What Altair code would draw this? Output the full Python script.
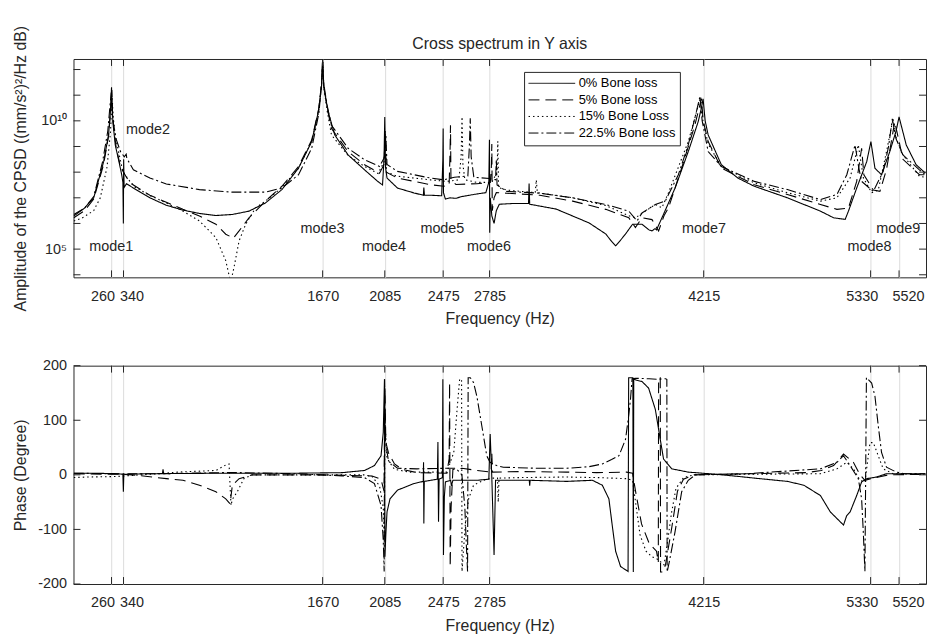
import altair as alt
import pandas as pd

FONT = "Liberation Sans"
TXT = "#262626"
FRAME = "#262626"
W, H = 859, 220
TICK = 7

series_names = ["0% Bone loss", "5% Bone loss", "15% Bone Loss", "22.5% Bone loss"]
series_dash = [[1, 0], [11, 6], [1.5, 3], [10, 3, 2, 3]]

mode_freqs = [260, 340, 1670, 2085, 2475, 2785, 4215, 5330, 5520]
mode_labels = ["mode1", "mode2", "mode3", "mode4", "mode5", "mode6", "mode7", "mode8", "mode9"]
mode_label_hz = [112, 357, 1522, 1933, 2323, 2634, 4071, 5176, 5368]
mode_label_exp = [5.09, 9.65, 5.78, 5.09, 5.78, 5.09, 5.78, 5.09, 5.78]

amp_decades = [4, 5, 6, 7, 8, 9, 10, 11, 12]
phase_ticks = [-200, -100, 0, 100, 200]

# ---- amplitude: (frequency Hz, log10 of CPSD amplitude) ----
amp_0 = [(8, 6.29), (80, 6.6), (141, 7.0), (207, 8.4), (240, 9.45), (252, 10.3), (258, 11.0), (260, 11.31),
         (263, 10.6), (270, 9.9), (285, 9.06), (310, 8.4), (328, 7.9), (336, 7.6), (339, 6.0), (341, 8.5),
         (344, 7.4), (360, 7.55), (406, 7.38), (516, 7.0), (626, 6.71), (737, 6.52), (847, 6.39), (957, 6.31),
         (1067, 6.35), (1178, 6.48), (1288, 6.8), (1398, 7.32), (1509, 8.16), (1597, 9.19), (1641, 10.35),
         (1662, 11.3), (1670, 12.4), (1678, 11.3), (1707, 10.35), (1751, 9.45), (1840, 8.67), (1950, 8.09),
         (2038, 7.64), (2070, 7.5), (2080, 8.5), (2085, 10.15), (2090, 8.2), (2100, 7.77), (2170, 7.38),
         (2280, 7.19), (2343, 7.1), (2346, 7.4), (2350, 7.1), (2390, 7.1), (2465, 7.08), (2473, 8.5),
         (2475, 9.7), (2477, 7.2), (2490, 6.95), (2520, 7.0), (2560, 6.98), (2600, 7.05), (2650, 7.1),
         (2700, 7.15), (2760, 7.2), (2780, 7.6), (2784, 9.26), (2786, 5.64), (2790, 7.0), (2800, 6.3),
         (2815, 6.0), (2830, 6.5), (2850, 6.75), (2950, 6.78), (3045, 6.78), (3049, 7.56), (3053, 6.75),
         (3230, 6.56), (3450, 6.02), (3561, 5.59), (3600, 5.3), (3627, 5.13), (3660, 5.35), (3693, 5.59),
         (3740, 5.97), (3803, 5.97), (3850, 5.75), (3870, 5.71), (3890, 5.8), (3900, 5.75), (3947, 6.36),
         (4024, 7.38), (4112, 8.8), (4178, 9.96), (4200, 10.5), (4211, 10.86), (4225, 10.0), (4245, 9.45),
         (4333, 8.29), (4443, 7.77), (4553, 7.45), (4774, 7.0), (4995, 6.48), (5083, 6.22), (5160, 6.16),
         (5182, 6.48), (5237, 7.38), (5304, 8.41), (5332, 9.19), (5359, 8.15), (5403, 7.9), (5458, 8.8),
         (5500, 9.6), (5520, 10.15), (5568, 9.06), (5634, 8.29), (5696, 7.96)]

amp_5 = [(8, 6.22), (80, 6.5), (141, 6.95), (207, 8.3), (240, 9.4), (255, 10.5), (262, 11.2), (266, 10.4),
         (275, 9.7), (290, 9.0), (320, 8.2), (350, 7.9), (362, 7.77), (406, 7.5), (516, 7.1), (626, 6.83),
         (737, 6.55), (847, 6.29), (957, 5.97), (1023, 5.58), (1074, 5.43), (1112, 5.71), (1178, 6.22),
         (1288, 6.87), (1398, 7.45), (1509, 8.22), (1597, 9.25), (1645, 10.5), (1663, 11.5), (1670, 12.3),
         (1677, 11.4), (1700, 10.5), (1729, 9.7), (1840, 8.8), (1950, 8.29), (2050, 7.96), (2080, 8.3),
         (2088, 9.6), (2095, 8.0), (2170, 7.77), (2390, 7.51), (2480, 7.45), (2515, 7.5), (2521, 8.8),
         (2524, 9.83), (2527, 7.7), (2560, 7.52), (2700, 7.55), (2790, 7.6), (2797, 8.2), (2800, 9.1),
         (2803, 6.5), (2815, 7.0), (2830, 7.2), (2899, 7.18), (3120, 7.1), (3340, 6.87), (3561, 6.55),
         (3715, 6.22), (3759, 5.84), (3803, 6.22), (3870, 6.15), (3914, 5.71), (3950, 6.3), (3980, 6.61),
         (4068, 8.16), (4156, 9.83), (4200, 10.86), (4212, 10.0), (4245, 9.19), (4333, 8.16), (4553, 7.51),
         (4774, 7.13), (4995, 6.74), (5105, 6.55), (5182, 6.6), (5237, 7.64), (5270, 8.93), (5285, 7.9),
         (5348, 7.3), (5392, 7.25), (5436, 8.1), (5491, 9.96), (5520, 9.2), (5546, 8.5), (5656, 7.9),
         (5696, 7.9)]

amp_15 = [(8, 6.1), (60, 6.2), (141, 6.5), (185, 7.0), (230, 8.2), (252, 9.5), (265, 10.9), (270, 10.2),
          (285, 9.4), (335, 8.03), (406, 7.45), (516, 7.09), (626, 6.8), (737, 6.48), (847, 6.1), (957, 5.45),
          (1023, 4.55), (1056, 3.7), (1078, 4.29), (1112, 5.32), (1156, 5.97), (1222, 6.61), (1288, 6.87),
          (1398, 7.4), (1509, 8.15), (1597, 9.2), (1645, 10.4), (1664, 11.5), (1671, 12.3), (1678, 11.3),
          (1700, 10.4), (1729, 9.45), (1840, 8.65), (1950, 8.22), (2040, 7.95), (2080, 8.4), (2090, 9.5),
          (2097, 8.0), (2170, 7.84), (2390, 7.7), (2500, 7.64), (2580, 7.7), (2595, 8.6), (2601, 10.15),
          (2607, 8.3), (2620, 7.7), (2700, 7.6), (2800, 7.6), (2835, 8.0), (2840, 9.2), (2845, 7.4),
          (2900, 7.3), (3090, 7.2), (3097, 7.7), (3104, 7.2), (3340, 7.0), (3561, 6.7), (3715, 6.3),
          (3759, 6.22), (3825, 6.48), (3892, 6.74), (3936, 6.61), (3980, 7.2), (4112, 9.19), (4195, 10.93),
          (4210, 10.0), (4245, 9.1), (4333, 8.22), (4553, 7.58), (4774, 7.2), (4995, 6.87), (5105, 7.0),
          (5193, 7.77), (5248, 9.06), (5282, 7.77), (5337, 7.2), (5381, 7.3), (5436, 8.8), (5480, 10.08),
          (5502, 9.3), (5546, 8.67), (5656, 7.84), (5696, 7.8)]

amp_22 = [(8, 6.35), (80, 6.6), (141, 7.05), (200, 8.4), (235, 9.6), (250, 10.6), (258, 11.1), (262, 10.8),
          (270, 10.0), (290, 9.3), (320, 8.8), (345, 8.6), (358, 8.7), (362, 8.54), (406, 8.09), (516, 7.77),
          (626, 7.54), (847, 7.32), (1067, 7.22), (1288, 7.22), (1398, 7.38), (1509, 7.9), (1597, 8.93),
          (1645, 10.3), (1663, 11.4), (1669, 12.3), (1676, 11.5), (1700, 10.6), (1729, 9.83), (1840, 8.93),
          (1950, 8.48), (2050, 8.22), (2085, 8.6), (2092, 9.45), (2100, 8.3), (2170, 8.03), (2390, 7.77),
          (2477, 7.7), (2550, 7.8), (2640, 7.85), (2650, 9.0), (2656, 10.1), (2662, 8.6), (2680, 7.8),
          (2785, 7.75), (2825, 7.7), (2830, 8.5), (2835, 7.5), (2899, 7.25), (3120, 7.18), (3340, 7.0),
          (3561, 6.74), (3715, 6.48), (3770, 6.1), (3803, 6.41), (3892, 6.74), (3958, 6.87), (4046, 7.9),
          (4112, 9.06), (4160, 10.2), (4190, 10.95), (4205, 10.0), (4245, 8.8), (4333, 8.22), (4553, 7.64),
          (4774, 7.32), (4995, 6.93), (5105, 7.13), (5171, 7.9), (5226, 9.06), (5250, 8.2), (5270, 7.64),
          (5348, 7.25), (5414, 8.03), (5450, 9.0), (5475, 10.08), (5500, 9.3), (5546, 8.67), (5656, 8.09),
          (5696, 7.9)]

# ---- phase: (frequency Hz, degrees) ----
ph_0 = [(8, 3), (150, 3), (300, 2), (336, 1), (339, -31), (342, 1), (500, 2), (1000, 3), (1500, 3), (1800, 4),
        (1950, 8), (2016, 17), (2060, 35), (2075, 78), (2083, 175), (2086, -150), (2092, -110), (2100, -68),
        (2120, -44), (2170, -28), (2280, -16), (2342, -12), (2344, 23), (2346, -89), (2349, -12), (2436, -8),
        (2440, 60), (2444, -86), (2448, -8), (2470, -5), (2473, 175), (2477, -147), (2483, -40), (2490, -13),
        (2525, -10), (2530, -20), (2540, -10), (2700, -10), (2780, -8), (2789, 75), (2800, -5), (2815, -147),
        (2825, -10), (3050, -10), (3053, -20), (3056, -10), (3300, -12), (3472, -10), (3538, -19), (3582, -44),
        (3604, -92), (3627, -140), (3660, -168), (3710, -177), (3714, 178), (3742, 178), (3745, -178),
        (3748, 176), (3759, 174), (3803, 171), (3847, 159), (3892, 120), (3925, 65), (3947, 29), (4002, 11),
        (4112, 5), (4300, 1), (4450, -3), (4553, -6), (4774, -12), (4884, -19), (4995, -38), (5061, -68),
        (5105, -80), (5149, -92), (5170, -75), (5193, -68), (5237, -38), (5270, -13), (5304, -7), (5370, -4),
        (5436, 2), (5696, 2)]

ph_5 = [(8, 2), (300, 1), (400, 0), (626, -7), (737, -10), (847, -19), (957, -31), (1023, -44), (1052, -53),
        (1067, -19), (1112, -7), (1200, 0), (1670, 0), (2000, -2), (2060, -8), (2080, -30), (2086, 160),
        (2092, 60), (2110, 40), (2150, 20), (2200, 10), (2300, 4), (2500, 3), (2515, 30), (2518, 168),
        (2522, -168), (2528, -60), (2540, 10), (2600, 12), (2700, 8), (2795, 5), (2800, 40), (2804, 5),
        (3000, 6), (3300, 5), (3500, 4), (3700, 5), (3740, 3), (3760, -30), (3800, -90), (3850, -125),
        (3900, -140), (3912, -160), (3914, 178), (3925, 178), (3927, -178), (3940, -178), (3960, -165),
        (4000, -100), (4040, -30), (4080, -8), (4150, 0), (4500, 2), (4900, 4), (5000, 8), (5083, 17),
        (5149, 38), (5215, 23), (5259, 0), (5292, -10), (5348, -6), (5400, -3), (5450, 0), (5696, 1)]

ph_15 = [(8, -5), (100, -4), (300, -3), (400, -1), (620, 3), (700, 5), (957, 8), (1023, 18), (1045, 20),
         (1058, -56), (1067, -45), (1100, -31), (1144, -7), (1200, 0), (1670, 0), (1950, 0), (2000, -3),
         (2050, -20), (2075, -60), (2082, -116), (2086, 100), (2100, 30), (2150, 10), (2250, 5), (2500, 5),
         (2546, 41), (2568, 120), (2585, 175), (2598, 175), (2601, -177), (2610, -140), (2623, -92),
         (2645, -44), (2678, -19), (2744, -10), (2800, -6), (2838, -6), (2843, -50), (2848, -6), (3000, -5),
         (3300, -4), (3500, -5), (3700, -7), (3740, -10), (3760, -50), (3790, -110), (3830, -140),
         (3870, -150), (3910, -155), (3950, -165), (3970, -130), (4000, -70), (4030, -25), (4080, -5),
         (4150, 0), (4500, 1), (4995, 2), (5105, 11), (5171, 23), (5215, 11), (5259, -10), (5292, -13),
         (5326, 59), (5348, 59), (5381, 35), (5414, 11), (5480, 2), (5696, 1)]

ph_22 = [(8, 3), (300, 2), (600, 2), (604, 10), (608, 2), (1000, 4), (1120, 4), (1500, 2), (1800, -2),
         (1950, -5), (2016, -16), (2060, -56), (2075, -120), (2081, -177), (2084, 175), (2090, 60),
         (2110, 25), (2170, 12), (2300, 11), (2500, 12), (2560, 12), (2600, 0), (2620, -60), (2630, -130),
         (2638, -177), (2642, 178), (2656, 178), (2678, 169), (2700, 144), (2722, 108), (2744, 72),
         (2766, 35), (2788, 23), (2832, 17), (2877, 14), (3100, 12), (3300, 12), (3450, 15), (3538, 20),
         (3600, 28), (3649, 35), (3693, 65), (3715, 110), (3726, 138), (3737, 176), (3760, 177),
         (3850, 176), (3900, 175), (3960, 176), (3969, 175), (3971, -178), (3985, -160), (4024, -104),
         (4068, -31), (4112, -10), (4160, 0), (4500, 2), (4995, 11), (5105, 23), (5149, 35), (5193, 17),
         (5248, -7), (5270, -44), (5281, -104), (5292, -177), (5302, 178), (5337, 168), (5359, 144),
         (5381, 90), (5403, 41), (5436, 14), (5502, 5), (5560, 2), (5696, 2)]


def long_frame(series_lists, power=False):
    rows = []
    for name, pts in zip(series_names, series_lists):
        for i, (f, v) in enumerate(pts):
            rows.append({"freq": f, "val": 10 ** v if power else v, "series": name, "idx": i})
    return pd.DataFrame(rows)


df_amp = long_frame([amp_0, amp_5, amp_15, amp_22], power=True)
df_phase = long_frame([ph_0, ph_5, ph_15, ph_22])
df_modes = pd.DataFrame({"freq": mode_label_hz, "val": [10 ** e for e in mode_label_exp], "label": mode_labels})
df_xt = pd.DataFrame({"freq": mode_freqs})
df_amp_ticks = pd.DataFrame({"val": [10 ** d for d in amp_decades]})
df_ph_ticks = pd.DataFrame({"val": phase_ticks})

xscale = alt.Scale(domain=[6, 5700], nice=False, zero=False)
amp_scale = alt.Scale(type="log", domain=[10 ** 3.9, 10 ** 12.41], nice=False)
ph_scale = alt.Scale(domain=[-200, 200], nice=False, zero=False)

label_shift = {"condition": [{"test": "datum.value == 260", "value": -9},
                             {"test": "datum.value == 340", "value": 8},
                             {"test": "datum.value == 5330", "value": -9},
                             {"test": "datum.value == 5520", "value": 9}],
               "value": 0}


def x_axis():
    return alt.Axis(values=mode_freqs, grid=True, gridColor="#dcdcdc", gridWidth=1, ticks=False, tickSize=0,
                    domain=False, labelPadding=12, labelOverlap=False, labelFlush=False, labelBound=False,
                    labelOffset=label_shift, title="Frequency (Hz)", titlePadding=8, format="d")


def amp_axis():
    return alt.Axis(values=[1e5, 1e10], labelExpr="datum.value < 1e7 ? '10⁵' : '10¹⁰'", ticks=False,
                    tickSize=0, domain=False, grid=False, labelPadding=7, titleX=-45,
                    title="Amplitude of the CPSD ((mm/s²)²/Hz dB)")


def ph_axis():
    return alt.Axis(values=phase_ticks, ticks=False, tickSize=0, domain=False, grid=False,
                    labelExpr="datum.value < 0 ? '-' + abs(datum.value) : '' + datum.value",
                    labelPadding=7, titleX=-45, title="Phase (Degree)")


dash_scale = alt.Scale(domain=series_names, range=series_dash)
legend = alt.Legend(title=None, orient="none", legendX=454, legendY=13, direction="vertical",
                    symbolType="stroke", symbolSize=2209, symbolStrokeWidth=1, symbolStrokeColor="black",
                    labelFontSize=13, labelFont=FONT, labelColor="black", strokeColor=FRAME, fillColor="white",
                    padding=4, rowPadding=1.7, clipHeight=15, labelOffset=3, symbolOffset=0, cornerRadius=0,
                    labelLimit=300)


def tick_layers(data_x, data_y, yscale, yaxis):
    xt_top = alt.Chart(data_x).mark_rule(color=FRAME, strokeWidth=1).encode(
        x=alt.X("freq:Q", scale=xscale, axis=x_axis()), y=alt.value(0), y2=alt.value(TICK))
    xt_bot = alt.Chart(data_x).mark_rule(color=FRAME, strokeWidth=1).encode(
        x=alt.X("freq:Q", scale=xscale, axis=x_axis()), y=alt.value(H - TICK), y2=alt.value(H))
    yt_l = alt.Chart(data_y).mark_rule(color=FRAME, strokeWidth=1).encode(
        y=alt.Y("val:Q", scale=yscale, axis=yaxis()), x=alt.value(0), x2=alt.value(TICK))
    yt_r = alt.Chart(data_y).mark_rule(color=FRAME, strokeWidth=1).encode(
        y=alt.Y("val:Q", scale=yscale, axis=yaxis()), x=alt.value(W - TICK), x2=alt.value(W))
    return [xt_top, xt_bot, yt_l, yt_r]


amp_lines = alt.Chart(df_amp).mark_line(clip=True, strokeWidth=1.1, color="black").encode(
    x=alt.X("freq:Q", scale=xscale, axis=x_axis()),
    y=alt.Y("val:Q", scale=amp_scale, axis=amp_axis()),
    strokeDash=alt.StrokeDash("series:N", scale=dash_scale, legend=legend),
    order="idx:Q",
)

mode_text = alt.Chart(df_modes).mark_text(align="left", baseline="middle", fontSize=14.5, font=FONT,
                                           color=TXT).encode(
    x=alt.X("freq:Q", scale=xscale, axis=x_axis()),
    y=alt.Y("val:Q", scale=amp_scale, axis=amp_axis()),
    text="label:N",
)

top = alt.layer(amp_lines, mode_text, *tick_layers(df_xt, df_amp_ticks, amp_scale, amp_axis)).properties(
    width=W, height=H,
    title=alt.TitleParams("Cross spectrum in Y axis", fontSize=16, font=FONT, fontWeight="normal", color=TXT,
                          offset=7, anchor="middle", frame="group", dy=34),
)

ph_lines = alt.Chart(df_phase).mark_line(clip=True, strokeWidth=1.1, color="black").encode(
    x=alt.X("freq:Q", scale=xscale, axis=x_axis()),
    y=alt.Y("val:Q", scale=ph_scale, axis=ph_axis()),
    strokeDash=alt.StrokeDash("series:N", scale=dash_scale, legend=None),
    order="idx:Q",
)

bottom = alt.layer(ph_lines, *tick_layers(df_xt, df_ph_ticks, ph_scale, ph_axis)).properties(width=W, height=H)

chart = alt.vconcat(top, bottom, spacing=89, bounds="flush").resolve_scale(
    strokeDash="independent"
).properties(
    padding={"left": 4, "top": 14, "right": 0, "bottom": 0}
).configure_view(
    stroke=FRAME, strokeWidth=1
).configure_axis(
    labelFont=FONT, titleFont=FONT, labelFontSize=14.5, titleFontSize=16, labelColor=TXT, titleColor=TXT,
    titleFontWeight="normal"
).configure_title(font=FONT)

chart.save("out.html", embed_options={"renderer": "svg", "actions": False})
